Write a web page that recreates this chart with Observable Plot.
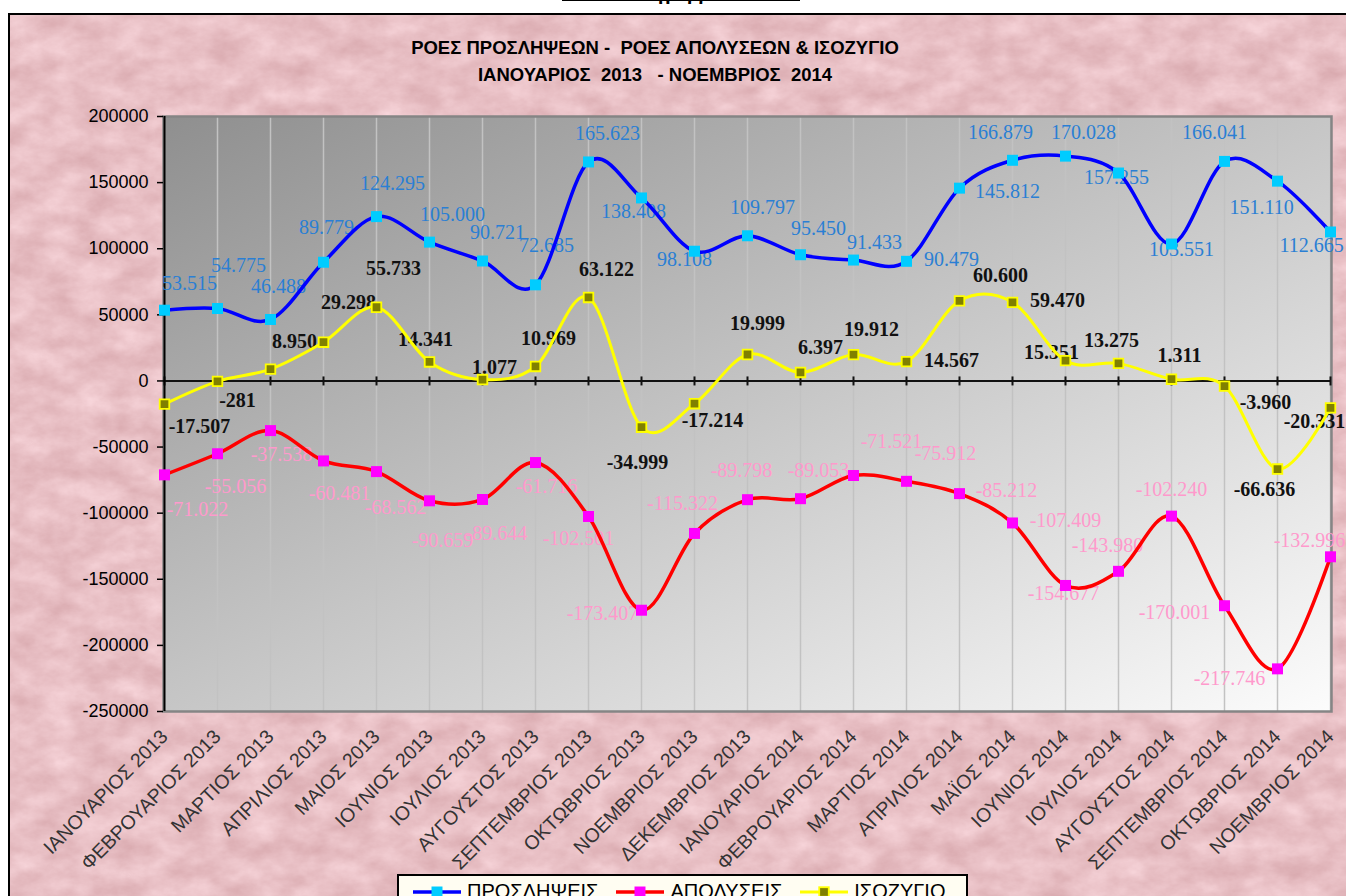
<!DOCTYPE html>
<html>
<head>
<meta charset="utf-8">
<script src="https://cdn.jsdelivr.net/npm/d3@7"></script>
<script src="https://cdn.jsdelivr.net/npm/@observablehq/plot@0.6"></script>
<style>
  html, body { margin: 0; padding: 0; background: #fff; }
  #page { position: relative; width: 1346px; height: 896px; overflow: hidden; background: #fff; }
  #frame { position: absolute; left: 8px; top: 13px; width: 1420px; height: 960px; border: 2px solid #000; box-sizing: border-box; overflow: hidden; }
  #frame svg.marble { position: absolute; left: 0; top: 0; }
  #heading { position: absolute; left: 562px; top: -16px; width: 238px; height: 16px; border-bottom: 1.5px solid #000; text-align: center; font: bold 20px "Liberation Serif", serif; line-height: 16px; color: #000; }
  .title { position: absolute; left: 0; width: 1310px; text-align: center; font-family: "Liberation Sans", Arial, sans-serif; font-weight: bold; font-size: 18.5px; color: #000; white-space: pre; }
  #chart { position: absolute; left: 0; top: 0; }
  #legend { position: absolute; left: 397px; top: 874px; width: 571px; height: 40px; border: 2px solid #000; box-sizing: border-box; background: #fffdf2; display: flex; align-items: flex-start; padding-top: 4px; padding-left: 14px; font-family: "Liberation Sans", Arial, sans-serif; font-size: 20px; color: #000; }
  .item { display: flex; align-items: center; margin-right: 18px; }
  .item svg { margin-right: 6px; }
</style>
</head>
<body>
<div id="page">
  <div id="frame">
    <svg class="marble" width="1420" height="960">
      <filter id="marble" x="0" y="0" width="100%" height="100%" color-interpolation-filters="sRGB">
        <feTurbulence type="fractalNoise" baseFrequency="0.03 0.045" numOctaves="5" seed="11"/>
        <feColorMatrix type="matrix" values="0.14 0 0 0 0.84  0.20 0 0 0 0.65  0.20 0 0 0 0.67  0 0 0 0 1"/>
      </filter>
      <rect width="1420" height="960" filter="url(#marble)"/>
    </svg>
  </div>
  <div id="heading">Διάγραμμα 1</div>
  <div class="title" style="top:37px">ΡΟΕΣ ΠΡΟΣΛΗΨΕΩΝ -  ΡΟΕΣ ΑΠΟΛΥΣΕΩΝ &amp; ΙΣΟΖΥΓΙΟ</div>
  <div class="title" style="top:64px">ΙΑΝΟΥΑΡΙΟΣ  2013   - ΝΟΕΜΒΡΙΟΣ  2014</div>
  <div id="chart"></div>
  <div id="legend"></div>
</div>
<script>
// ---------------- data ----------------
const months = ["ΙΑΝΟΥΑΡΙΟΣ 2013","ΦΕΒΡΟΥΑΡΙΟΣ 2013","ΜΑΡΤΙΟΣ 2013","ΑΠΡΙΛΙΟΣ 2013","ΜΑΙΟΣ 2013","ΙΟΥΝΙΟΣ 2013","ΙΟΥΛΙΟΣ 2013","ΑΥΓΟΥΣΤΟΣ 2013","ΣΕΠΤΕΜΒΡΙΟΣ 2013","ΟΚΤΩΒΡΙΟΣ 2013","ΝΟΕΜΒΡΙΟΣ 2013","ΔΕΚΕΜΒΡΙΟΣ 2013","ΙΑΝΟΥΑΡΙΟΣ 2014","ΦΕΒΡΟΥΑΡΙΟΣ 2014","ΜΑΡΤΙΟΣ 2014","ΑΠΡΙΛΙΟΣ 2014","ΜΑΪΟΣ 2014","ΙΟΥΝΙΟΣ 2014","ΙΟΥΛΙΟΣ 2014","ΑΥΓΟΥΣΤΟΣ 2014","ΣΕΠΤΕΜΒΡΙΟΣ 2014","ΟΚΤΩΒΡΙΟΣ 2014","ΝΟΕΜΒΡΙΟΣ 2014"];
const hires = [53515, 54775, 46488, 89779, 124295, 105000, 90721, 72685, 165623, 138408, 98108, 109797, 95450, 91433, 90479, 145812, 166879, 170028, 157255, 103551, 166041, 151110, 112665];
const dismissals = [-71022, -55056, -37538, -60481, -68562, -90659, -89644, -61716, -102501, -173407, -115322, -89798, -89053, -71521, -75912, -85212, -107409, -154677, -143980, -102240, -170001, -217746, -132996];
const balance = [-17507, -281, 8950, 29298, 55733, 14341, 1077, 10969, 63122, -34999, -17214, 19999, 6397, 19912, 14567, 60600, 59470, 15351, 13275, 1311, -3960, -66636, -20331];
const yTicks = [200000, 150000, 100000, 50000, 0, -50000, -100000, -150000, -200000, -250000];
const seriesNames = ["ΠΡΟΣΛΗΨΕΙΣ", "ΑΠΟΛΥΣΕΙΣ", "ΙΣΟΖΥΓΙΟ"];

// label offsets in pixels (dx, dy) from each point, as placed in the original
const hireLabelOffsets = [[25,-27],[21,-43],[8,-33],[3,-35],[16,-33],[23,-28],[15,-28],[11,-39],[19,-28],[-8,14],[-10,8],[15,-28],[18,-26],[21,-17],[45,-2],[48,3],[-12,-28],[18,-24],[-2,5],[10,6],[-10,-29],[-16,26],[-19,14]];
const dismissLabelOffsets = [[33,35],[18,33],[11,24],[16,33],[19,36],[13,40],[14,34],[11,24],[-10,22],[-39,3],[-12,-30],[-6,-29],[18,-28],[38,-34],[39,-28],[47,-3],[53,-2],[-2,8],[-11,-26],[0,-27],[-50,7],[-48,10],[-21,-16]];
const balanceLabelOffsets = [[35,23],[20,19],[24,-28],[25,-40],[17,-39],[-4,-22],[12,-12],[13,-28],[18,-28],[-4,35],[18,17],[10,-31],[20,-25],[18,-25],[45,-1],[41,-25],[45,-2],[-14,-8],[-7,-23],[8,-24],[41,16],[-13,21],[-16,14]];

// ---------------- styles ----------------
const series = [
  {name: seriesNames[0], values: hires, offsets: hireLabelOffsets, line: "#0000ff", width: 3.5, mfill: "#00ccff", mstroke: "#00ccff", mr: 6.2, lab: "#2a7fd4", weight: "normal"},
  {name: seriesNames[1], values: dismissals, offsets: dismissLabelOffsets, line: "#ff0000", width: 3.5, mfill: "#ff00ff", mstroke: "#ff00ff", mr: 6.2, lab: "#ff99cc", weight: "normal"},
  {name: seriesNames[2], values: balance, offsets: balanceLabelOffsets, line: "#ffff00", width: 3, mfill: "#808000", mstroke: "#ffff00", mr: 5.4, lab: "#111111", weight: "bold"}
];

const fmt = v => (v < 0 ? "-" : "") + String(Math.abs(v)).replace(/\B(?=(\d{3})+(?!\d))/g, ".");

const rowsFor = s => months.map((m, i) => ({month: m, i, value: s.values[i]}));

const labelMarks = [];
for (const s of series) {
  rowsFor(s).forEach((r, i) => {
    labelMarks.push(Plot.text([r], {
      x: "month", y: "value", text: d => fmt(d.value),
      dx: s.offsets[i][0], dy: s.offsets[i][1],
      fill: s.lab, fontWeight: s.weight, fontSize: 20,
      fontFamily: "Liberation Serif", textAnchor: "middle"
    }));
  });
}

const lineMarks = series.map(s => Plot.line(rowsFor(s), {x: "month", y: "value", stroke: s.line, strokeWidth: s.width, curve: "cardinal"}));
const dotMarks = series.map(s => Plot.dot(rowsFor(s), {x: "month", y: "value", symbol: "square", r: s.mr, fill: s.mfill, stroke: s.mstroke, strokeWidth: s === series[2] ? 1.8 : 0}));

const chart = Plot.plot({
  width: 1346,
  height: 896,
  marginLeft: 163,
  marginRight: 15,
  marginTop: 116,
  marginBottom: 185,
  style: {background: "transparent", fontFamily: "Liberation Sans, Arial, sans-serif", overflow: "visible"},
  x: {type: "point", domain: months, padding: 0, axis: null},
  y: {domain: [-250000, 200000], axis: null},
  marks: [
    Plot.frame({fill: "url(#plotbg)"}),
    Plot.ruleX(months.slice(1), {stroke: "#c2c2c2", strokeWidth: 1.5}),
    Plot.frame({stroke: "#858585", strokeWidth: 2.5}),
    Plot.ruleY([0], {stroke: "#111", strokeWidth: 2}),
    Plot.ruleX(months, {x: d => d, y1: 0, y2: 0, insetTop: -4, insetBottom: -5, stroke: "#111", strokeWidth: 2}),
    Plot.ruleX([months[0]], {stroke: "#000", strokeWidth: 2}),
    Plot.axisY({ticks: yTicks, tickSize: 6, tickPadding: 9, fontSize: 18, tickFormat: d => String(d), label: null, color: "#000", strokeWidth: 1.5}),
    Plot.axisX({anchor: "bottom", tickRotate: -45, tickSize: 0, tickPadding: 22, fontSize: 19.5, label: null, fill: "#333"}),
    ...labelMarks,
    ...lineMarks,
    ...dotMarks
  ]
});

const svgNS = "http://www.w3.org/2000/svg";
const defs = document.createElementNS(svgNS, "defs");
defs.innerHTML = '<linearGradient id="plotbg" x1="0" y1="0" x2="1" y2="1"><stop offset="0" stop-color="#8f8f8f"/><stop offset="0.5" stop-color="#c6c6c6"/><stop offset="1" stop-color="#fcfcfc"/></linearGradient>';
chart.insertBefore(defs, chart.firstChild);
document.getElementById("chart").appendChild(chart);

// legend
const legend = document.getElementById("legend");
for (const s of series) {
  const item = document.createElement("div");
  item.className = "item";
  const side = s.mr * 1.77;
  item.innerHTML = `<svg width="48" height="16"><line x1="0" x2="48" y1="8" y2="8" stroke="${s.line}" stroke-width="${s.width}"/><rect x="${24 - side / 2}" y="${8 - side / 2}" width="${side}" height="${side}" fill="${s.mfill}" stroke="${s.mstroke}" stroke-width="${s === series[2] ? 1.8 : 0}"/></svg><span>${s.name}</span>`;
  legend.appendChild(item);
}
</script>
</body>
</html>
